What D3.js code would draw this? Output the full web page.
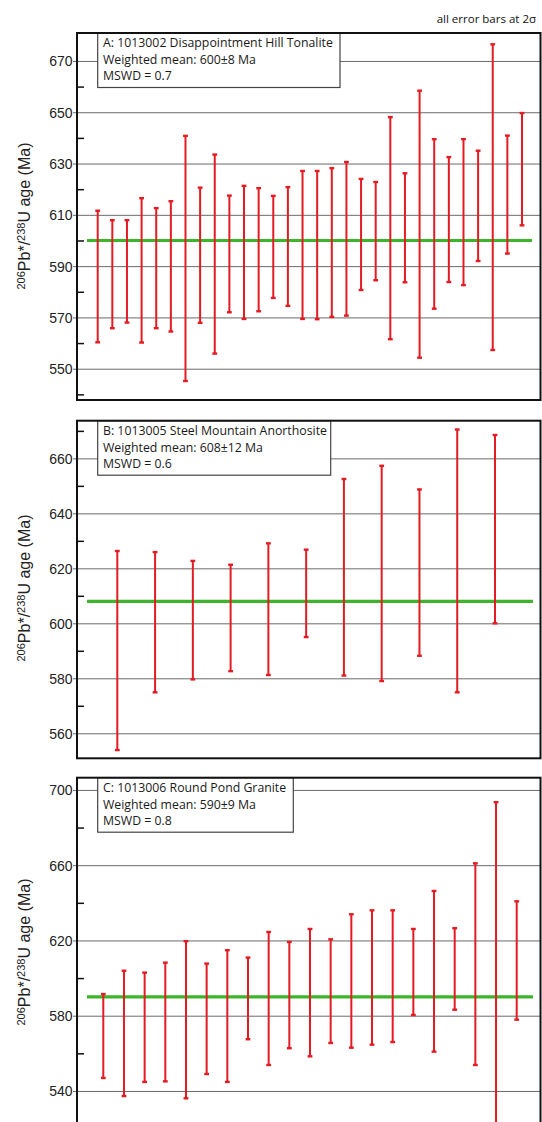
<!DOCTYPE html>
<html>
<head>
<meta charset="utf-8">
<script src="https://cdn.jsdelivr.net/npm/d3@7"></script>
<style>
  html, body { margin: 0; padding: 0; background: #fff; }
  svg { display: block; }
</style>
</head>
<body>
<svg id="chart" width="542" height="1122"></svg>
<script>
// ---------- DATA ----------
// Panel A: 1013002 Disappointment Hill Tonalite (2σ ranges, Ma)
const aLow  = [560.3,565.8,568.0,560.2,565.8,564.5,545.2,567.9,555.9,572.0,569.4,572.4,577.6,574.5,569.4,569.3,570.2,570.7,580.7,584.5,561.5,583.7,554.3,573.4,583.8,582.6,592.0,557.3,594.9,605.9];
const aHigh = [611.6,607.9,607.9,616.5,612.6,615.3,640.8,620.6,633.5,617.5,621.3,620.4,617.4,620.8,627.1,627.1,628.2,630.6,624.0,622.8,648.1,626.2,658.4,639.5,632.5,639.5,635.0,676.5,640.9,649.7];
// Panel B: 1013005 Steel Mountain Anorthosite
const bLow  = [553.9,574.9,579.6,582.6,581.2,595.0,581.0,579.0,588.2,574.9,600.0];
const bHigh = [626.3,625.9,622.7,621.3,629.1,626.8,652.5,657.3,648.7,670.5,668.5];
// Panel C: 1013006 Round Pond Granite
const cLow  = [546.9,537.3,544.8,545.1,536.1,549.0,544.8,567.5,553.8,562.7,558.4,565.5,563.0,564.6,566.0,580.4,560.9,583.2,553.8,505.0,577.9];
const cHigh = [591.5,603.9,602.9,608.2,619.6,607.7,614.8,610.9,624.5,619.2,626.1,620.6,633.9,636.0,636.0,626.1,646.3,626.5,661.0,693.5,640.8];

const weightedMeans = [600, 608, 590];
const panelTitles = [
  ["A: 1013002 Disappointment Hill Tonalite", "Weighted mean: 600±8 Ma", "MSWD = 0.7"],
  ["B: 1013005 Steel Mountain Anorthosite", "Weighted mean: 608±12 Ma", "MSWD = 0.6"],
  ["C: 1013006 Round Pond Granite", "Weighted mean: 590±9 Ma", "MSWD = 0.8"]
];
const aMajorTicks = [550,570,590,610,630,650,670];
const aMinorTicks = [540,560,580,600,620,640,660];
const bMajorTicks = [560,580,600,620,640,660];
const bMinorTicks = [570,590,610,630,650,670];
const cMajorTicks = [540,580,620,660,700];
const cMinorTicks = [560,600,640,680];
const noteText = "all error bars at 2σ";

// ---------- LAYOUT ----------
const frameLeft = 77, frameRight = 540.5;
const panels = [
  { low: aLow, high: aHigh, mean: weightedMeans[0], title: panelTitles[0],
    major: aMajorTicks, minor: aMinorTicks,
    top: 33, bottom: 400, yDomain: [537.8, 680.9],
    xRange: [97.7, 522], meanX: [87, 532], boxRight: 340, titleY: 216 },
  { low: bLow, high: bHigh, mean: weightedMeans[1], title: panelTitles[1],
    major: bMajorTicks, minor: bMinorTicks,
    top: 420.7, bottom: 758.3, yDomain: [550.9, 673.7],
    xRange: [117.3, 495], meanX: [87, 533], boxRight: 330.7, titleY: 588 },
  { low: cLow, high: cHigh, mean: weightedMeans[2], title: panelTitles[2],
    major: cMajorTicks, minor: cMinorTicks,
    top: 777.7, bottom: 1122, yDomain: [523.5, 706.5], frameBottom: 1130,
    xRange: [103.3, 516.7], meanX: [87, 533], boxRight: 293.3, titleY: 952 }
];

const svg = d3.select("#chart");
const RED = "#e31b23", GREEN = "#3db52b", GRID = "#6a6a6a";

svg.append("text")
  .attr("x", 536).attr("y", 23)
  .attr("text-anchor", "end")
  .attr("font-family", "'Open Sans', sans-serif")
  .attr("font-size", 11.5)
  .attr("fill", "#111")
  .text(noteText);

panels.forEach((p) => {
  const g = svg.append("g");
  const y = d3.scaleLinear().domain(p.yDomain).range([p.bottom, p.top]);
  const idx = d3.range(p.low.length);
  const x = d3.scalePoint().domain(idx).range(p.xRange);
  const fb = p.frameBottom || p.bottom;

  // major gridlines + outward ticks (via axis)
  const axisMajor = d3.axisLeft(y).tickValues(p.major)
    .tickSize(-(frameRight - frameLeft)).tickSizeOuter(0).tickPadding(4.5)
    .tickFormat(d3.format("d"));
  const ga = g.append("g").attr("transform", `translate(${frameLeft},0)`).call(axisMajor);
  ga.select(".domain").remove();
  ga.selectAll(".tick line").attr("stroke", GRID).attr("stroke-width", 1)
    .attr("x1", -4);
  ga.selectAll(".tick text")
    .attr("font-family", "'Liberation Sans', Arial, sans-serif")
    .attr("font-size", 14).attr("fill", "#222").attr("dy", "0.35em");

  // minor inward ticks
  const axisMinor = d3.axisRight(y).tickValues(p.minor).tickSize(7).tickFormat("");
  const gm = g.append("g").attr("transform", `translate(${frameLeft},0)`).call(axisMinor);
  gm.select(".domain").remove();
  gm.selectAll(".tick line").attr("stroke", "#111").attr("stroke-width", 1.5);

  // info box
  const bx = 97.7, by = p.top, bh = 54.5;
  g.append("rect").attr("x", bx).attr("y", by)
    .attr("width", p.boxRight - bx).attr("height", bh)
    .attr("fill", "#fff").attr("stroke", "#444").attr("stroke-width", 1.2);
  p.title.forEach((t, i) => {
    g.append("text").attr("x", 103).attr("y", by + 14.2 + i * 16.6)
      .attr("font-family", "'Open Sans', sans-serif")
      .attr("font-size", 12.3).attr("fill", "#1a1a1a").text(t);
  });

  // mean line
  g.append("line")
    .attr("x1", p.meanX[0]).attr("x2", p.meanX[1])
    .attr("y1", y(p.mean)).attr("y2", y(p.mean))
    .attr("stroke", GREEN).attr("stroke-width", 3.2);

  // error bars
  const bars = g.append("g").selectAll("g").data(idx).join("g");
  bars.append("line")
    .attr("x1", d => x(d)).attr("x2", d => x(d))
    .attr("y1", d => y(p.high[d])).attr("y2", d => y(p.low[d]))
    .attr("stroke", RED).attr("stroke-width", 2);
  [p.high, p.low].forEach(arr => {
    bars.append("line")
      .attr("x1", d => x(d) - 2.4).attr("x2", d => x(d) + 2.4)
      .attr("y1", d => y(arr[d])).attr("y2", d => y(arr[d]))
      .attr("stroke", RED).attr("stroke-width", 2.4);
  });

  // frame
  g.append("rect").attr("x", frameLeft).attr("y", p.top)
    .attr("width", frameRight - frameLeft).attr("height", fb - p.top)
    .attr("fill", "none").attr("stroke", "#111").attr("stroke-width", 2);

  // y-axis title
  const tt = g.append("text")
    .attr("transform", `translate(30,${p.titleY}) rotate(-90)`)
    .attr("text-anchor", "middle")
    .attr("font-family", "'Liberation Sans', Arial, sans-serif")
    .attr("font-size", 16).attr("fill", "#222");
  tt.append("tspan").attr("font-size", 11).attr("baseline-shift", "5.5").text("206");
  tt.append("tspan").text("Pb*/");
  tt.append("tspan").attr("font-size", 11).attr("baseline-shift", "5.5").text("238");
  tt.append("tspan").text("U age (Ma)");
});
</script>
</body>
</html>
